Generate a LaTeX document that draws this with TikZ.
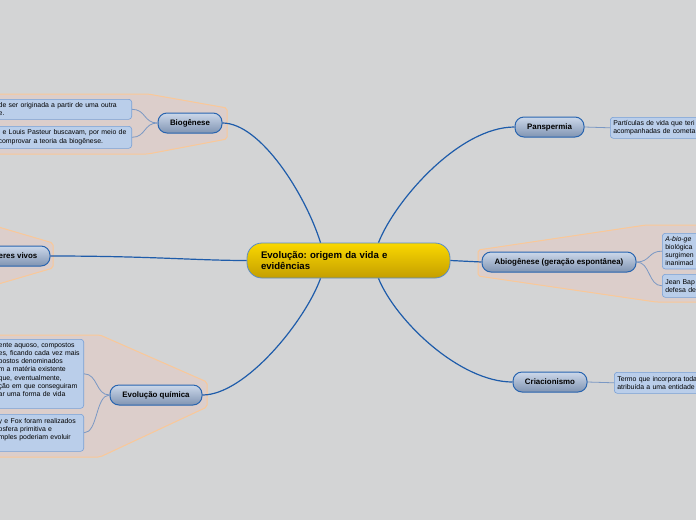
\documentclass[tikz,border=0pt]{standalone}
\usepackage{fontspec}
\setmainfont{Liberation Sans}
\usepackage{xcolor}
\usetikzlibrary{positioning}
\frenchspacing

\definecolor{bgcol}{RGB}{211,212,213}
\definecolor{cenTop}{RGB}{250,216,0}
\definecolor{cenBot}{RGB}{196,158,0}
\definecolor{cenLine}{RGB}{90,140,200}
\definecolor{topTop}{RGB}{204,216,234}
\definecolor{topBot}{RGB}{128,148,178}
\definecolor{topLine}{RGB}{40,100,175}
\definecolor{subFill}{RGB}{186,206,234}
\definecolor{subLine}{RGB}{120,160,215}
\definecolor{linkBlue}{RGB}{30,92,170}
\definecolor{subLink}{RGB}{122,152,196}
\definecolor{zoneFill}{RGB}{220,206,203}
\definecolor{zoneLine}{RGB}{250,200,152}

\begin{document}
\begin{tikzpicture}[
    x=1pt, y=-1pt,
    every node/.style={font=\fontsize{6.9}{8.2}\selectfont},
    central/.style={draw=cenLine, line width=0.8pt, rounded corners=15pt, top color=cenTop, bottom color=cenBot, minimum width=203pt, minimum height=35pt, text width=175pt, inner xsep=14pt, align=left, font=\fontsize{9.6}{11.5}\selectfont\bfseries},
    topic/.style={draw=topLine, line width=1pt, rounded corners=9pt, top color=topTop, bottom color=topBot, minimum height=20pt, inner sep=0pt, font=\fontsize{7.9}{8}\selectfont\bfseries},
    subbox/.style={draw=subLine, line width=0.6pt, fill=subFill, rounded corners=3pt, inner xsep=3pt, inner ysep=3pt, align=left},
    mainlink/.style={linkBlue, line width=1.2pt},
    sublink/.style={subLink, line width=0.8pt},
    zone/.style={fill=zoneFill, draw=zoneLine, line width=1pt, rounded corners=2pt}
]

\useasboundingbox (0,0) rectangle (696,520);
\fill[bgcol] (0,0) rectangle (696,520);
\clip (0,0) rectangle (696,520);

% ── zones behind the branches ──
\draw[zone] (-5,94) -- (148,94) -- (227,108) -- (227,139) -- (148,154) -- (-5,154) -- cycle;
\draw[zone] (-5,226) -- (53,243) -- (53,268) -- (-5,285) -- cycle;
\draw[zone] (-5,335) -- (100,335) -- (207,382) -- (207,407) -- (100,457) -- (-5,457) -- cycle;
\draw[zone] (478,250) -- (646,225) -- (705,225) -- (705,302) -- (656,302) -- (478,276) -- cycle;

% ════════════════════════════════════════
% CENTRE
% ════════════════════════════════════════
\node[central] (c) at (348.5,260.5) {Evolução: origem da vida e\\evidências};

% ════════════════════════════════════════
% LEFT BRANCHES
% ════════════════════════════════════════
\node[topic, minimum width=64pt] (bio)   at (190,123) {Biogênese};
\node[topic, minimum width=64pt] (seres) at (18,256)  {eres vivos};
\node[topic, minimum width=92pt] (eq)    at (156,395) {Evolução química};

\node[subbox, anchor=north east, text width=130pt, minimum height=20pt] (bio1) at (132,99)
    {de ser originada a partir de uma outra\\e.};
\node[subbox, anchor=north east, text width=130pt, minimum height=22pt] (bio2) at (132,126)
    {l e Louis Pasteur buscavam, por meio de\\comprovar a teoria da biogênese.};
\node[subbox, anchor=north east, text width=82pt, minimum height=69pt] (eq1) at (84,339)
    {ente aquoso, compostos\\es, ficando cada vez mais\\postos denominados\\m a matéria existente\\ que, eventualmente,\\ção em que conseguiram\\ar uma forma de vida\\\mbox{}};
\node[subbox, anchor=north east, text width=82pt, minimum height=37pt] (eq2) at (84,414)
    {y e Fox foram realizados\\osfera primitiva e\\mples poderiam evoluir\\\mbox{}};

% ════════════════════════════════════════
% RIGHT BRANCHES
% ════════════════════════════════════════
\node[topic, minimum width=69pt]  (pan)  at (549.5,127) {Panspermia};
\node[topic, minimum width=154pt] (abio) at (559,262)   {Abiogênese (geração espontânea)};
\node[topic, minimum width=74pt]  (cri)  at (550,382)   {Criacionismo};

\node[subbox, anchor=north west, text width=100pt, minimum height=21pt] (pan1) at (610,117)
    {Partículas de vida que teri\\acompanhadas de cometa};
\node[subbox, anchor=north west, text width=60pt, minimum height=35pt] (abio1) at (662,233)
    {\textit{A-bio-ge}\\biológica\\surgimen\\inanimad};
\node[subbox, anchor=north west, text width=60pt, minimum height=23pt] (abio2) at (662,274)
    {Jean Bap\\defesa de};
\node[subbox, anchor=north west, text width=100pt, minimum height=21pt] (cri1) at (614,372)
    {Termo que incorpora toda\\atribuída a uma entidade};

% ── main links ──
\draw[mainlink] (bio.east) .. controls +(38,0) and +(-15,-48) .. ([xshift=-28pt]c.north);
\draw[mainlink] (seres.east) .. controls +(100,0) and +(-50,0) .. (c.west);
\draw[mainlink] (eq.east) .. controls +(43,0) and +(-15,42) .. ([xshift=-28pt]c.south);
\draw[mainlink] (pan.west) .. controls +(-55,0) and +(17,-43) .. ([xshift=30pt]c.north);
\draw[mainlink] (c.east) -- (abio.west);
\draw[mainlink] (cri.west) .. controls +(-53,0) and +(17,42) .. ([xshift=30pt]c.south);

% ── sub links ──
\draw[sublink] (bio.west) .. controls +(-14,0) and +(14,0) .. (bio1.east);
\draw[sublink] (bio.west) .. controls +(-14,0) and +(14,0) .. (bio2.east);
\draw[sublink] (eq.west) .. controls +(-14,0) and +(14,0) .. (eq1.east);
\draw[sublink] (eq.west) .. controls +(-14,0) and +(14,0) .. (eq2.east);
\draw[sublink] (pan.east) -- (pan1.west);
\draw[sublink] (abio.east) .. controls +(14,0) and +(-14,0) .. (abio1.west);
\draw[sublink] (abio.east) .. controls +(14,0) and +(-14,0) .. (abio2.west);
\draw[sublink] (cri.east) -- (cri1.west);

\end{tikzpicture}
\end{document}
